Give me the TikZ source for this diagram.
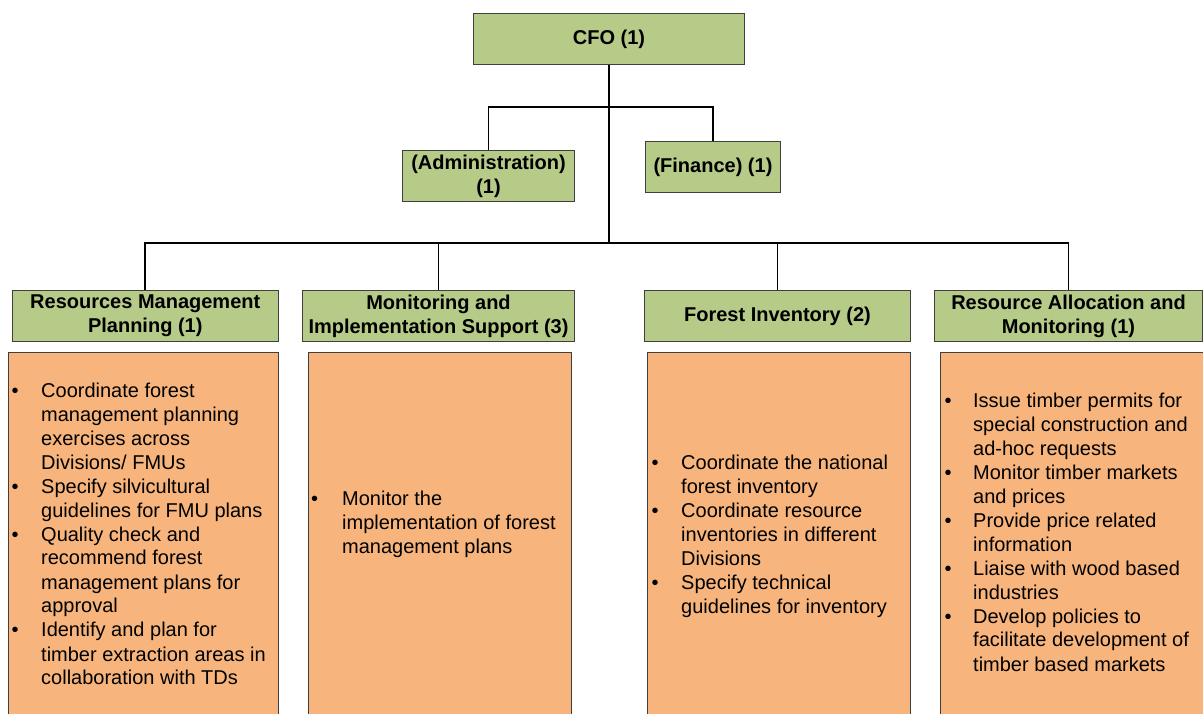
\documentclass[tikz,border=0pt]{standalone}
\usepackage{fontspec}
\setmainfont{Liberation Sans}
\definecolor{gfill}{HTML}{B7CB89}
\definecolor{ofill}{HTML}{F7B57D}
\definecolor{edgec}{HTML}{3F3F3F}
\newcommand{\bul}[1]{\leavevmode\llap{\textbullet\hskip #1}}
\newcommand{\lst}[1]{\parbox[t]{260pt}{\raggedright\fontsize{20}{24}\selectfont #1}}
\begin{document}
\begin{tikzpicture}[x=1pt,y=-1pt,
  gbox/.style={draw=edgec, line width=1pt, fill=gfill, inner sep=0pt, align=center,
    font=\bfseries\fontsize{20}{24}\selectfont, anchor=north west, minimum height=51pt},
  obox/.style={draw=edgec, line width=1pt, fill=ofill, inner sep=0pt, anchor=north west, minimum height=380pt},
  conn/.style={draw=black, line width=1.8pt},
  txt/.style={anchor=base west, inner sep=0pt}]
\useasboundingbox (0,0) rectangle (1203,714);
\clip (0,0) rectangle (1203,714);
\fill[white] (0,0) rectangle (1203,714);
% green boxes
\node[gbox, minimum width=271pt] (cfo) at (473,13) {CFO (1)};
\node[gbox, minimum width=172pt] (adm) at (402,150) {(Administration)\\(1)};
\node[gbox, minimum width=135pt] (fin) at (645,141) {(Finance) (1)};
\node[gbox, minimum width=266.5pt] (rmp) at (11.5,290) {Resources Management\\Planning (1)};
\node[gbox, minimum width=272pt] (mis) at (302,290) {Monitoring and\\Implementation Support (3)};
\node[gbox, minimum width=266pt] (fi) at (644,290) {Forest Inventory (2)};
\node[gbox, minimum width=268pt] (ram) at (934,290) {Resource Allocation and\\Monitoring (1)};
% orange boxes
\node[obox, minimum width=270pt] (o1) at (8,352) {};
\node[obox, minimum width=263pt] (o2) at (308,352) {};
\node[obox, minimum width=263pt] (o3) at (647,352) {};
\node[obox, minimum width=270pt] (o4) at (940,352) {};
% texts
\node[txt] (t1) at (41,397) {\lst{%
\bul{22.5pt}Coordinate forest\\management planning\\exercises across\\Divisions/ FMUs\\
\bul{22.5pt}Specify silvicultural\\guidelines for FMU plans\\
\bul{22.5pt}Quality check and\\recommend forest\\management plans for\\approval\\
\bul{22.5pt}Identify and plan for\\timber extraction areas in\\collaboration with TDs}};
\node[txt] (t2) at (342,505) {\lst{%
\bul{24pt}Monitor the\\implementation of forest\\management plans}};
\node[txt] (t3) at (681,469) {\lst{%
\bul{22.5pt}Coordinate the national\\forest inventory\\
\bul{22.5pt}Coordinate resource\\inventories in different\\Divisions\\
\bul{22.5pt}Specify technical\\guidelines for inventory}};
\node[txt] (t4) at (973,407) {\lst{%
\bul{21.5pt}Issue timber permits for\\special construction and\\ad-hoc requests\\
\bul{21.5pt}Monitor timber markets\\and prices\\
\bul{21.5pt}Provide price related\\information\\
\bul{21.5pt}Liaise with wood based\\industries\\
\bul{21.5pt}Develop policies to\\facilitate development of\\timber based markets}};
% connectors
\coordinate (bus) at (609,243);
\coordinate (br) at (609,107);
\draw[conn] (cfo.south) -- (bus);
\draw[conn] (adm.north) |- (br) -| (fin.north);
\draw[conn] (rmp.north) |- (bus) -| (ram.north);
\draw[conn] (mis.north) -- (mis.north |- bus);
\draw[conn] (fi.north) -- (fi.north |- bus);
\end{tikzpicture}
\end{document}
